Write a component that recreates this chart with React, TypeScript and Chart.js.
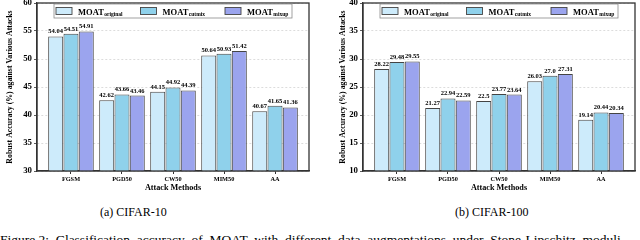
import React, { useEffect, useRef } from "react";
import { Chart, registerables } from "chart.js";

Chart.register(...registerables);

// ---------- data ----------
const categories = ["FGSM", "PGD50", "CW50", "MIM50", "AA"];
const seriesNames = ["original", "cutmix", "mixup"];
const seriesColors = ["#cdebfb", "#8fd1eb", "#9ba4ee"];

const cifar10Original = [54.04, 42.62, 44.15, 50.64, 40.67];
const cifar10Cutmix = [54.51, 43.66, 44.92, 50.93, 41.65];
const cifar10Mixup = [54.91, 43.46, 44.39, 51.42, 41.36];
const cifar10Range = [30, 60];

const cifar100Original = [28.22, 21.27, 22.5, 26.03, 19.14];
const cifar100Cutmix = [29.48, 22.94, 23.77, 27.0, 20.44];
const cifar100Mixup = [29.55, 22.59, 23.64, 27.31, 20.34];
const cifar100Range = [10, 40];

const yTitle = "Robust Accuracy (%) against Various Attacks";
const xTitle = "Attack Methods";
const captionA = "(a) CIFAR-10";
const captionB = "(b) CIFAR-100";
const figureText =
  "Figure 2:  Classification  accuracy  of  MOAT  with  different  data  augmentations  under  Stone-Lipschitz  moduli";

const SERIF = "'Liberation Serif', 'Times New Roman', serif";

const fmt = (v: number) => (Number.isInteger(v) ? v.toFixed(1) : String(v));

const framePlugin = {
  id: "frame",
  afterDraw(chart: any) {
    const { ctx, chartArea: a } = chart;
    ctx.save();
    ctx.strokeStyle = "#333";
    ctx.lineWidth = 1.3;
    ctx.strokeRect(a.left, a.top, a.right - a.left, a.bottom - a.top);
    ctx.restore();
  },
};

const valueLabelPlugin = {
  id: "valueLabels",
  afterDatasetsDraw(chart: any) {
    const { ctx } = chart;
    ctx.save();
    ctx.font = `bold 6.5px ${SERIF}`;
    ctx.fillStyle = "#000";
    ctx.textAlign = "center";
    ctx.textBaseline = "bottom";
    chart.data.datasets.forEach((ds: any, di: number) => {
      const meta = chart.getDatasetMeta(di);
      meta.data.forEach((el: any, i: number) => {
        ctx.fillText(fmt(ds.data[i]), el.x, el.y - 1.5);
      });
    });
    ctx.restore();
  },
};

const legendPlugin = {
  id: "customLegend",
  afterDraw(chart: any) {
    const { ctx, chartArea: a } = chart;
    const cx = (a.left + a.right) / 2;
    const w = 238;
    const h = 14;
    const left = cx - w / 2;
    const top = a.top + 1;
    ctx.save();
    ctx.fillStyle = "#fff";
    ctx.fillRect(left, top, w, h);
    ctx.strokeStyle = "#8a8a8a";
    ctx.lineWidth = 0.8;
    ctx.strokeRect(left, top, w, h);
    chart.data.datasets.forEach((ds: any, i: number) => {
      const x = left + 2 + i * 84.5;
      ctx.fillStyle = ds.backgroundColor;
      ctx.fillRect(x, top + 3.5, 16, 7);
      ctx.strokeStyle = "#444";
      ctx.lineWidth = 0.9;
      ctx.strokeRect(x, top + 3.5, 16, 7);
      ctx.fillStyle = "#000";
      ctx.textAlign = "left";
      ctx.textBaseline = "alphabetic";
      ctx.font = `bold 8.5px ${SERIF}`;
      ctx.fillText("MOAT", x + 22, top + 10.5);
      const mw = ctx.measureText("MOAT").width;
      ctx.font = `bold 5.5px ${SERIF}`;
      ctx.fillText(seriesNames[i], x + 22 + mw + 0.5, top + 12);
    });
    ctx.restore();
  },
};

type PanelProps = {
  original: number[];
  cutmix: number[];
  mixup: number[];
  range: number[];
  left: number;
  width: number;
  titlePad: number;
};

function BarPanel({ original, cutmix, mixup, range, left, width, titlePad }: PanelProps) {
  const ref = useRef<HTMLCanvasElement>(null);
  useEffect(() => {
    const series = [original, cutmix, mixup];
    const chart = new Chart(ref.current as HTMLCanvasElement, {
      type: "bar",
      data: {
        labels: categories,
        datasets: series.map((d, i) => ({
          label: "MOAT " + seriesNames[i],
          data: d,
          backgroundColor: seriesColors[i],
          borderColor: "#444",
          borderWidth: 1,
          borderSkipped: false,
          categoryPercentage: 0.9,
          barPercentage: 0.98,
        })),
      },
      options: {
        animation: false,
        responsive: false,
        maintainAspectRatio: false,
        devicePixelRatio: 1,
        layout: { padding: { top: 3, right: width - 309, left: 0, bottom: 0 } },
        plugins: { legend: { display: false }, tooltip: { enabled: false } },
        scales: {
          x: {
            afterBuildTicks: (s: any) => {
              s._startValue = -0.666;
              s._valueRange = 5.332;
            },
            afterFit: (s: any) => {
              s.height = 25;
              s.paddingLeft = 0;
              s.paddingRight = 0;
            },
            grid: {
              display: true,
              drawOnChartArea: false,
              drawTicks: true,
              tickLength: 3,
              tickColor: "#333",
              offset: false,
            },
            border: { display: true, color: "#333", width: 1.3 },
            ticks: {
              font: { family: SERIF, size: 6.3, weight: "bold" },
              color: "#000",
              padding: 2,
              maxRotation: 0,
              autoSkip: false,
            },
            title: {
              display: true,
              text: xTitle,
              font: { family: SERIF, size: 8.2, weight: "bold" },
              color: "#000",
              padding: { top: 0, bottom: 3 },
            },
          },
          y: {
            min: range[0],
            max: range[1],
            afterFit: (s: any) => {
              s.width = 37;
              s.paddingTop = 0;
              s.paddingBottom = 0;
            },
            ticks: {
              stepSize: 5,
              font: { family: SERIF, size: 8.8, weight: "bold" },
              color: "#000",
              padding: 2,
            },
            grid: {
              color: "#d4d4d4",
              lineWidth: 0.8,
              tickLength: 3,
              tickColor: "#333",
              tickBorderDash: [],
            },
            border: { display: true, color: "#333", width: 1.3, dash: [2, 2] },
            title: {
              display: true,
              text: yTitle,
              font: { family: SERIF, size: 7.8, weight: "bold" },
              color: "#000",
              padding: { top: titlePad, bottom: 0 },
            },
          },
        },
      } as any,
      plugins: [valueLabelPlugin, framePlugin, legendPlugin],
    });
    return () => chart.destroy();
  }, []);
  return (
    <canvas
      ref={ref}
      width={width}
      height={196}
      style={{ position: "absolute", left, top: 0, width, height: 196 }}
    />
  );
}

export default function App() {
  return (
    <div
      style={{
        position: "absolute",
        left: 0,
        top: 0,
        width: 640,
        height: 240,
        overflow: "hidden",
        background: "#fff",
        fontFamily: SERIF,
        color: "#000",
      }}
    >
      <BarPanel
        original={cifar10Original}
        cutmix={cifar10Cutmix}
        mixup={cifar10Mixup}
        range={cifar10Range}
        left={0}
        width={318}
        titlePad={5}
      />
      <BarPanel
        original={cifar100Original}
        cutmix={cifar100Cutmix}
        mixup={cifar100Mixup}
        range={cifar100Range}
        left={326}
        width={314}
        titlePad={12}
      />
      <div style={{ position: "absolute", left: 100, top: 205, fontSize: 12, whiteSpace: "nowrap" }}>
        {captionA}
      </div>
      <div style={{ position: "absolute", left: 455, top: 205, fontSize: 12, whiteSpace: "nowrap" }}>
        {captionB}
      </div>
      <div
        style={{
          position: "absolute",
          left: 0,
          top: 232,
          fontSize: 13.5,
          whiteSpace: "pre",
          lineHeight: "16px",
        }}
      >
        {figureText}
      </div>
    </div>
  );
}
